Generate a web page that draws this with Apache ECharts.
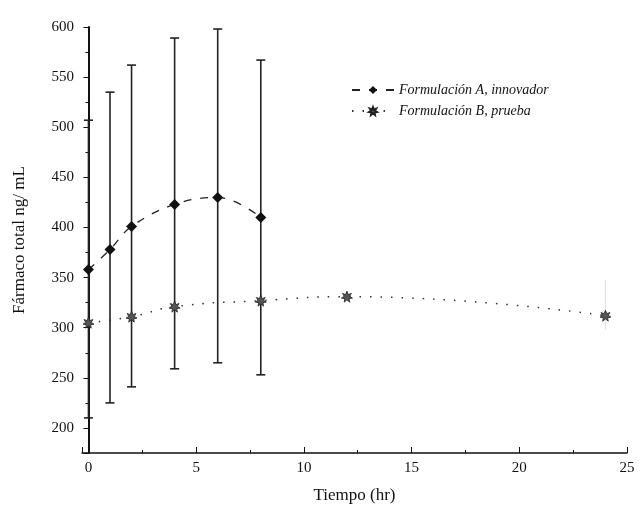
<!DOCTYPE html>
<html style="height: 100%; width: 100%; overflow: hidden">
<head>
    <meta charset="UTF-8">
    <title>Fármaco total</title>
    <script type="text/javascript" src="https://cdn.jsdelivr.net/npm/echarts@6/dist/echarts.min.js"></script>
</head>
<body style="height: 100%; width: 100%; margin: 0; background: #fff">
<div id="container" style="height: 513px; width: 641px"></div>
<script type="text/javascript">

    // Formulación A, innovador
    var timeA = [0, 1, 2, 4, 6, 8];
    var meanA = [358, 378, 401, 423, 430, 410];
    var lowA  = [210, 225, 241, 259, 265, 253];
    var highA = [507, 535, 562, 589, 598, 567];

    // Formulación B, prueba
    var timeB = [0, 2, 4, 8, 12, 24];
    var meanB = [305, 311, 321, 327, 331, 312];
    var lowB  = [null, null, null, null, null, 298];
    var highB = [null, null, null, null, null, 348];

    var nameA = 'Formulación A, innovador';
    var nameB = 'Formulación B, prueba';

    var font = 'Liberation Serif';
    var ink = '#111';

    var starPath = 'path://M0,-10 L2.5,-4 L8,-6 L5,-1 L10,2 L4,3 L5,9 L0,5 L-5,9 L-4,3 L-10,2 L-5,-1 L-8,-6 L-2.5,-4 Z';

    function pairs(xs, ys) {
        return xs.map(function (x, i) { return [x, ys[i]]; });
    }
    function bars(xs, lo, hi) {
        var out = [];
        xs.forEach(function (x, i) {
            if (lo[i] != null) out.push([x, lo[i], hi[i]]);
        });
        return out;
    }

    function errorBar(color, width, w) {
        return function (params, api) {
            var lo = api.coord([api.value(0), api.value(1)]);
            var hi = api.coord([api.value(0), api.value(2)]);
            var st = { stroke: color, lineWidth: width };
            return {
                type: 'group',
                children: [
                    { type: 'line', shape: { x1: lo[0], y1: lo[1], x2: hi[0], y2: hi[1] }, style: st },
                    { type: 'line', shape: { x1: lo[0] - w, y1: lo[1], x2: lo[0] + w, y2: lo[1] }, style: st },
                    { type: 'line', shape: { x1: hi[0] - w, y1: hi[1], x2: hi[0] + w, y2: hi[1] }, style: st }
                ]
            };
        };
    }

    var myChart = echarts.init(document.getElementById('container'));

    var option = {
        backgroundColor: '#fff',
        animation: false,
        grid: { left: 82, right: 14, top: 27, bottom: 60 },
        legend: {
            orient: 'vertical',
            left: 346,
            top: 78,
            itemGap: 7,
            itemWidth: 42,
            itemHeight: 10,
            data: [nameA, nameB],
            textStyle: { fontFamily: font, fontStyle: 'italic', fontSize: 14, color: ink }
        },
        xAxis: {
            type: 'value',
            min: -0.3,
            max: 25,
            splitNumber: 5,
            name: 'Tiempo (hr)',
            nameLocation: 'middle',
            nameGap: 34,
            nameTextStyle: { fontFamily: font, fontSize: 17, color: ink },
            axisLine: { lineStyle: { color: ink, width: 1.5 } },
            axisTick: { inside: true, length: 6, lineStyle: { color: ink } },
            minorTick: { show: true, splitNumber: 2, length: 3, lineStyle: { color: ink } },
            splitLine: { show: false },
            axisLabel: {
                fontFamily: font, fontSize: 15, color: ink, margin: 8,
                formatter: function (v) { return v % 5 === 0 ? String(v) : ''; }
            }
        },
        yAxis: {
            type: 'value',
            min: 175,
            max: 600,
            splitNumber: 9,
            name: 'Fármaco total ng/ mL',
            nameLocation: 'middle',
            nameGap: 54,
            nameTextStyle: { fontFamily: font, fontSize: 17, color: ink },
            axisLine: { show: true, lineStyle: { color: ink, width: 2 } },
            axisTick: { show: true, length: 5, lineStyle: { color: ink } },
            minorTick: { show: true, splitNumber: 2, length: 3, lineStyle: { color: ink } },
            splitLine: { show: false },
            axisLabel: {
                fontFamily: font, fontSize: 15, color: ink, margin: 8,
                formatter: function (v) { return v % 50 === 0 ? String(v) : ''; }
            }
        },
        series: [
            {
                name: nameA + ' err',
                type: 'custom',
                renderItem: errorBar('#222', 1.6, 4.5),
                data: bars(timeA, lowA, highA),
                encode: { x: 0, y: [1, 2] },
                z: 1
            },
            {
                name: nameB + ' err',
                type: 'custom',
                renderItem: errorBar('#ccc', 0.6, 0),
                data: bars(timeB, lowB, highB),
                encode: { x: 0, y: [1, 2] },
                z: 1
            },
            {
                name: nameA,
                type: 'line',
                smooth: 0.4,
                data: pairs(timeA, meanA),
                symbol: 'diamond',
                symbolSize: 11,
                itemStyle: { color: '#111' },
                lineStyle: { color: '#222', width: 1.3, type: [8, 9] },
                z: 3
            },
            {
                name: nameB,
                type: 'line',
                smooth: 0.5,
                data: pairs(timeB, meanB),
                symbol: starPath,
                symbolSize: 11,
                itemStyle: { color: '#555', borderColor: '#222', borderWidth: 0.8 },
                lineStyle: { color: '#333', width: 1.5, type: [1.5, 9] },
                z: 3
            }
        ]
    };

    myChart.setOption(option);

</script>
</body>
</html>
